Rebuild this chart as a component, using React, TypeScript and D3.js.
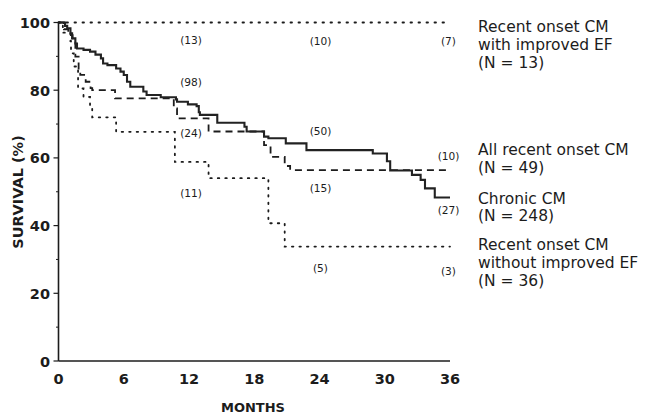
import React from "react";
import * as d3 from "d3";

// ---- Data (months, survival %) ----
const monthTicks = [0, 6, 12, 18, 24, 30, 36];
const survivalTicks = [0, 20, 40, 60, 80, 100];

const improvedEF: [number, number][] = [
  [0, 100],
  [36, 100],
];

const chronicCM: [number, number][] = [
  [0, 100], [0.6, 99], [0.8, 98.3], [1.1, 96.8], [1.25, 95.3], [1.55, 93.8],
  [1.7, 92.3], [2.3, 91.9], [2.9, 91.4], [3.4, 90.5], [3.9, 89.4], [4.1, 87.9],
  [4.5, 87.4], [5.3, 86.4], [5.7, 85.5], [6.0, 84.5], [6.3, 82.5], [6.6, 81.0],
  [7.8, 79.6], [8.1, 78.6], [9.4, 77.9], [10.8, 77.3], [10.9, 76.6], [11.9, 75.8],
  [12.7, 75.3], [12.9, 73.5], [13.0, 72.7], [14.6, 70.4], [17.1, 69.2], [17.3, 67.8],
  [18.9, 66.3], [19.3, 65.8], [20.9, 64.3], [22.8, 62.3], [28.9, 61.3], [30.2, 59],
  [30.5, 56.3], [32.5, 55], [33.3, 53.5], [33.7, 51], [34.6, 48.3], [36, 48.3],
];

const allRecentCM: [number, number][] = [
  [0, 100], [0.5, 98], [0.9, 96.3], [1.3, 94.8], [1.55, 89.9], [1.85, 86],
  [2.0, 84.5], [2.5, 82.5], [2.95, 80.6], [3.1, 80], [5.2, 77.6], [10.6, 74.6],
  [10.9, 71.7], [13.8, 67.8], [18.9, 63.8], [19.5, 60.3], [20.8, 57.6],
  [21.3, 56.4], [36, 56.4],
];

const withoutImprovedEF: [number, number][] = [
  [0, 100], [0.4, 97], [1.1, 94.5], [1.15, 90.9], [1.4, 87], [1.8, 80.5],
  [2.3, 78], [2.9, 75.1], [3.1, 72], [5.3, 67.7], [10.7, 58.8], [13.8, 54],
  [19.3, 40.7], [20.8, 33.8], [36, 33.8],
];

// Numbers at risk at 12, 24, 36 months
const atRiskMonths = [12, 24, 36];
const improvedAtRisk = ["(13)", "(10)", "(7)"];
const chronicAtRisk = ["(98)", "(50)", "(27)"];
const allRecentAtRisk = ["(24)", "(15)", "(10)"];
const withoutAtRisk = ["(11)", "(5)", "(3)"];

const legendImproved = ["Recent onset CM", "with improved EF", "(N = 13)"];
const legendAllRecent = ["All recent onset CM", "(N = 49)"];
const legendChronic = ["Chronic CM", "(N = 248)"];
const legendWithout = ["Recent onset CM", "without improved EF", "(N = 36)"];

const FONT = "'DejaVu Sans', Arial, sans-serif";
const INK = "#1c1c1c";

export default function App() {
  const W = 645;
  const H = 414;
  const x = d3.scaleLinear().domain([0, 36]).range([58.5, 450]);
  const y = d3.scaleLinear().domain([0, 100]).range([361, 22.5]);

  const line = d3
    .line<[number, number]>()
    .x((d) => x(d[0]))
    .y((d) => y(d[1]))
    .curve(d3.curveStepAfter);

  const labelDx = [2, 1, -1.5];
  const atRiskRows: { texts: string[]; ys: number[] }[] = [
    { texts: improvedAtRisk, ys: [44, 45, 45] },
    { texts: chronicAtRisk, ys: [86, 135, 214] },
    { texts: allRecentAtRisk, ys: [137, 192, 160] },
    { texts: withoutAtRisk, ys: [197, 272, 275] },
  ];

  const legendGroups: { lines: string[]; y0: number }[] = [
    { lines: legendImproved, y0: 32.3 },
    { lines: legendAllRecent, y0: 155 },
    { lines: legendChronic, y0: 203.5 },
    { lines: legendWithout, y0: 250 },
  ];

  const minorTicks = d3.range(10, 100, 20);

  return (
    <svg
      width={W}
      height={H}
      style={{ position: "absolute", left: 0, top: 0, background: "#fff" }}
      fontFamily={FONT}
    >
      <rect width={W} height={H} fill="#fff" />

      {/* curves */}
      <path
        d={line(improvedEF) || ""}
        fill="none"
        stroke={INK}
        strokeWidth={1.8}
        strokeDasharray="1.5,6.5"
        strokeLinecap="round"
      />
      <path
        d={line(withoutImprovedEF) || ""}
        fill="none"
        stroke={INK}
        strokeWidth={1.8}
        strokeDasharray="1.5,6"
        strokeLinecap="round"
      />
      <path
        d={line(allRecentCM) || ""}
        fill="none"
        stroke={INK}
        strokeWidth={1.8}
        strokeDasharray="7,5"
      />
      <path d={line(chronicCM) || ""} fill="none" stroke="#222" strokeWidth={2.1} />

      {/* axes */}
      <line x1={x(0)} x2={x(36)} y1={y(0)} y2={y(0)} stroke={INK} strokeWidth={1.4} />
      <line x1={x(0)} x2={x(0)} y1={y(0)} y2={y(100)} stroke={INK} strokeWidth={1.6} />
      {survivalTicks.map((t) => (
        <g key={"yt" + t}>
          <line x1={x(0) - 5} x2={x(0)} y1={y(t)} y2={y(t)} stroke={INK} strokeWidth={1.2} />
          <text
            x={50}
            y={y(t) + 5.5}
            textAnchor="end"
            fontSize={14.5}
            fontWeight="bold"
            fill={INK}
          >
            {t}
          </text>
        </g>
      ))}
      {minorTicks.map((t) => (
        <line key={"ym" + t} x1={x(0) - 2.5} x2={x(0)} y1={y(t)} y2={y(t)} stroke={INK} strokeWidth={1} />
      ))}
      {monthTicks.map((t) => (
        <text
          key={"xt" + t}
          x={x(t)}
          y={383.5}
          textAnchor="middle"
          fontSize={14.5}
          fontWeight="bold"
          fill={INK}
        >
          {t}
        </text>
      ))}

      {/* axis titles */}
      <text x={253} y={412} textAnchor="middle" fontSize={13} fontWeight="bold" fill={INK}>
        MONTHS
      </text>
      <text
        transform={`translate(23, 192) rotate(-90)`}
        textAnchor="middle"
        fontSize={14.5}
        fontWeight="bold"
        fill={INK}
      >
        SURVIVAL (%)
      </text>

      {/* numbers at risk */}
      {atRiskRows.map((row, ri) =>
        row.texts.map((t, i) => (
          <text
            key={"ar" + ri + "-" + i}
            x={x(atRiskMonths[i]) + labelDx[i]}
            y={row.ys[i]}
            textAnchor="middle"
            fontSize={10.6}
            fill={INK}
          >
            {t}
          </text>
        ))
      )}

      {/* legend */}
      {legendGroups.map((g, gi) =>
        g.lines.map((l, li) => (
          <text
            key={"lg" + gi + "-" + li}
            x={478}
            y={g.y0 + li * 17.8}
            fontSize={15.5}
            fill={INK}
          >
            {l}
          </text>
        ))
      )}
    </svg>
  );
}
